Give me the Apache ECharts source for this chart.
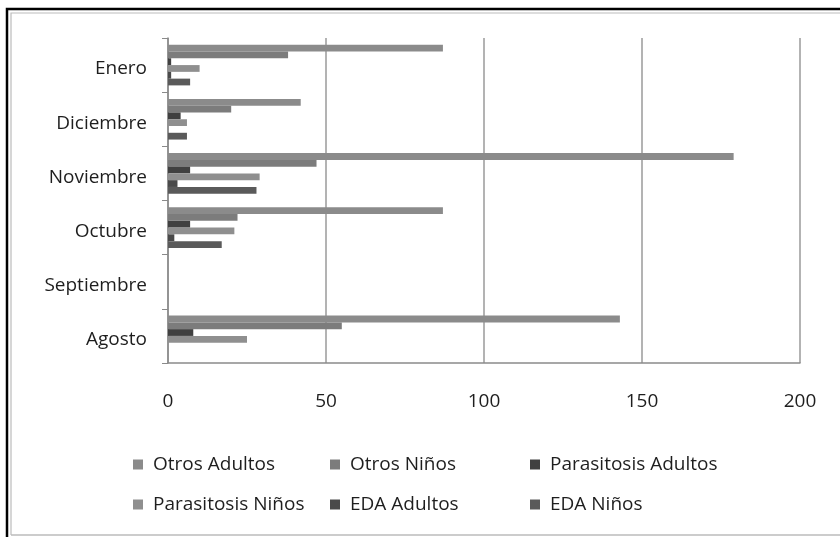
<!DOCTYPE html>
<html>
<head>
<meta charset="utf-8">
<script src="https://cdn.jsdelivr.net/npm/echarts@6/dist/echarts.min.js"></script>
<style>
html,body{margin:0;padding:0;background:#fff;}
#main{width:840px;height:537px;}
</style>
</head>
<body>
<div id="main"></div>
<script>
const categories = ['Enero', 'Diciembre', 'Noviembre', 'Octubre', 'Septiembre', 'Agosto'];
const seriesNames = ['Otros Adultos', 'Otros Niños', 'Parasitosis Adultos', 'Parasitosis Niños', 'EDA Adultos', 'EDA Niños'];
const otrosAdultos = [87, 42, 179, 87, 0, 143];
const otrosNinos = [38, 20, 47, 22, 0, 55];
const parasitosisAdultos = [1, 4, 7, 7, 0, 8];
const parasitosisNinos = [10, 6, 29, 21, 0, 25];
const edaAdultos = [1, 0, 3, 2, 0, 0];
const edaNinos = [7, 6, 28, 17, 0, 0];
const xTicks = [0, 50, 100, 150, 200];

const seriesData = [otrosAdultos, otrosNinos, parasitosisAdultos, parasitosisNinos, edaAdultos, edaNinos];
const colors = ['#8b8b8b', '#7c7c7c', '#404040', '#8f8f8f', '#4a4a4a', '#5a5a5a'];
const FONT = 'Open Sans';
const FS = 19;

const chart = echarts.init(document.getElementById('main'));

const legendPos = [
  {left: 128, top: 450}, {left: 325, top: 450}, {left: 525, top: 450},
  {left: 128, top: 490}, {left: 325, top: 490}, {left: 525, top: 490}
];

chart.setOption({
  animation: false,
  backgroundColor: '#ffffff',
  color: colors,
  grid: {left: 168, right: 40, top: 38, bottom: 174, containLabel: false},
  xAxis: {
    type: 'value',
    min: xTicks[0],
    max: xTicks[xTicks.length - 1],
    interval: 50,
    axisLine: {show: true, lineStyle: {color: '#8a8a8a', width: 1.5}},
    axisTick: {show: false},
    splitLine: {show: true, lineStyle: {color: '#9a9a9a', width: 1.5}},
    axisLabel: {color: '#1e1e1e', fontFamily: FONT, fontSize: FS, margin: 29}
  },
  yAxis: {
    type: 'category',
    data: categories,
    inverse: true,
    axisLine: {show: true, lineStyle: {color: '#8a8a8a', width: 1.5}},
    axisTick: {show: true, length: 6, lineStyle: {color: '#8a8a8a', width: 1}},
    axisLabel: {
      margin: 21,
      formatter: v => '{a|' + v + '}',
      rich: {a: {color: '#1e1e1e', fontFamily: FONT, fontSize: FS, padding: [8, 0, 0, 0]}}
    }
  },
  legend: seriesNames.map((n, i) => ({
    data: [n],
    left: legendPos[i].left,
    top: legendPos[i].top,
    itemWidth: 10,
    itemHeight: 10,
    itemGap: 0,
    icon: 'rect',
    textStyle: {color: '#1e1e1e', fontFamily: FONT, fontSize: FS, padding: [0, 0, 0, 5]},
    selectedMode: false
  })),
  series: seriesNames.map((n, i) => ({
    name: n,
    type: 'bar',
    data: seriesData[i],
    barGap: '0%',
    barCategoryGap: '25%',
    itemStyle: {color: colors[i]}
  })),
  graphic: [
    {type: 'polyline', shape: {points: [[7, 537], [7, 9], [840, 9]]}, style: {stroke: '#000', lineWidth: 2.5, fill: null}, silent: true},
    {type: 'polyline', shape: {points: [[11, 535], [11, 13], [840, 13]]}, style: {stroke: '#bbb', lineWidth: 1.2, fill: null}, silent: true},
    {type: 'line', shape: {x1: 11, y1: 535, x2: 840, y2: 535}, style: {stroke: '#bbb', lineWidth: 1.5}, silent: true}
  ]
});
</script>
</body>
</html>
